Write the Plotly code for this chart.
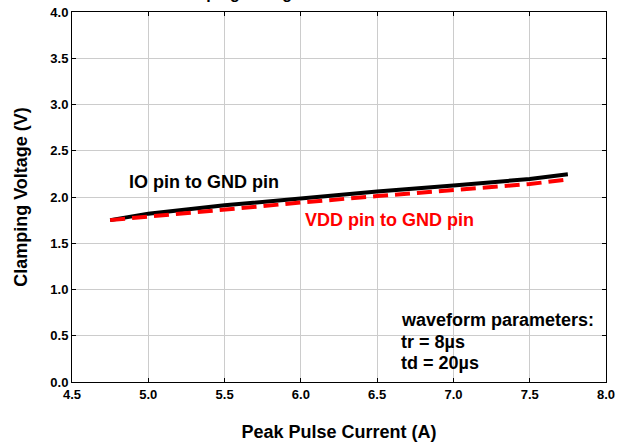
import plotly.graph_objects as go

current = [4.75, 5.0, 5.5, 6.0, 6.5, 7.0, 7.5, 7.75]
io_gnd = [1.75, 1.82, 1.91, 1.99, 2.06, 2.125, 2.195, 2.245]
vdd_gnd = [1.75, 1.79, 1.87, 1.94, 2.01, 2.07, 2.14, 2.19]

x_ticks = [4.5, 5.0, 5.5, 6.0, 6.5, 7.0, 7.5, 8.0]
y_ticks = [0.0, 0.5, 1.0, 1.5, 2.0, 2.5, 3.0, 3.5, 4.0]

note_lines = ["waveform parameters:", "tr = 8µs", "td = 20µs"]
note_y = [0.67, 0.432, 0.205]

FONT = "Liberation Sans"

fig = go.Figure()
fig.add_trace(go.Scatter(x=current, y=io_gnd, mode="lines",
                         line=dict(color="black", width=4), showlegend=False))
fig.add_trace(go.Scatter(x=current, y=vdd_gnd, mode="lines",
                         line=dict(color="#ff0000", width=4, dash="15px,7px"), showlegend=False))

fig.add_annotation(x=5.365, y=2.16, xref="x", yref="y", text="<b>IO pin to GND pin</b>",
                   showarrow=False, font=dict(family=FONT, size=18, color="black"))
fig.add_annotation(x=6.58, y=1.75, xref="x", yref="y", text="<b>VDD pin to GND pin</b>",
                   showarrow=False, font=dict(family=FONT, size=18, color="#ff0000"))
for txt, yy in zip(note_lines, note_y):
    fig.add_annotation(x=6.64, y=yy, xref="x", yref="y", xanchor="left", align="left",
                       text=f"<b>{txt}</b>", showarrow=False,
                       font=dict(family=FONT, size=18, color="black"))
fig.add_annotation(x=0.47, y=1.022, xref="paper", yref="paper", yanchor="bottom",
                   text="<b>Clamping Voltage vs. Peak Pulse Current</b>",
                   showarrow=False, font=dict(family=FONT, size=16, color="black"))

fig.update_xaxes(range=[4.5, 8.0], tickvals=x_ticks, ticktext=[f"<b>{v:.1f}</b>" for v in x_ticks],
                 showgrid=True, gridcolor="#cccccc", gridwidth=1,
                 showline=True, linecolor="black", linewidth=1, mirror="ticks",
                 ticks="inside", ticklen=4, tickcolor="black", zeroline=False, automargin=False,
                 ticklabeloverflow="allow",
                 tickfont=dict(family=FONT, size=13, color="black"),
                 title=dict(text="<b>Peak Pulse Current (A)</b>", standoff=24,
                            font=dict(family=FONT, size=18, color="black")))
fig.update_yaxes(range=[0, 4.0], tickvals=y_ticks, ticktext=[f"<b>{v:.1f}</b>" for v in y_ticks],
                 showgrid=True, gridcolor="#cccccc", gridwidth=1,
                 showline=True, linecolor="black", linewidth=1, mirror="ticks",
                 ticks="inside", ticklen=4, tickcolor="black", zeroline=False, automargin=False,
                 ticklabeloverflow="allow",
                 tickfont=dict(family=FONT, size=13, color="black"),
                 title=dict(text="<b>Clamping Voltage (V)</b>", standoff=18,
                            font=dict(family=FONT, size=18, color="black")))

fig.update_layout(width=625, height=443, margin=dict(l=72, r=19, t=12, b=61),
                  plot_bgcolor="white", paper_bgcolor="white",
                  font=dict(family=FONT, color="black"))
fig.write_html("out.html", config={"displayModeBar": False},
               post_script="document.body.style.margin='0';")
